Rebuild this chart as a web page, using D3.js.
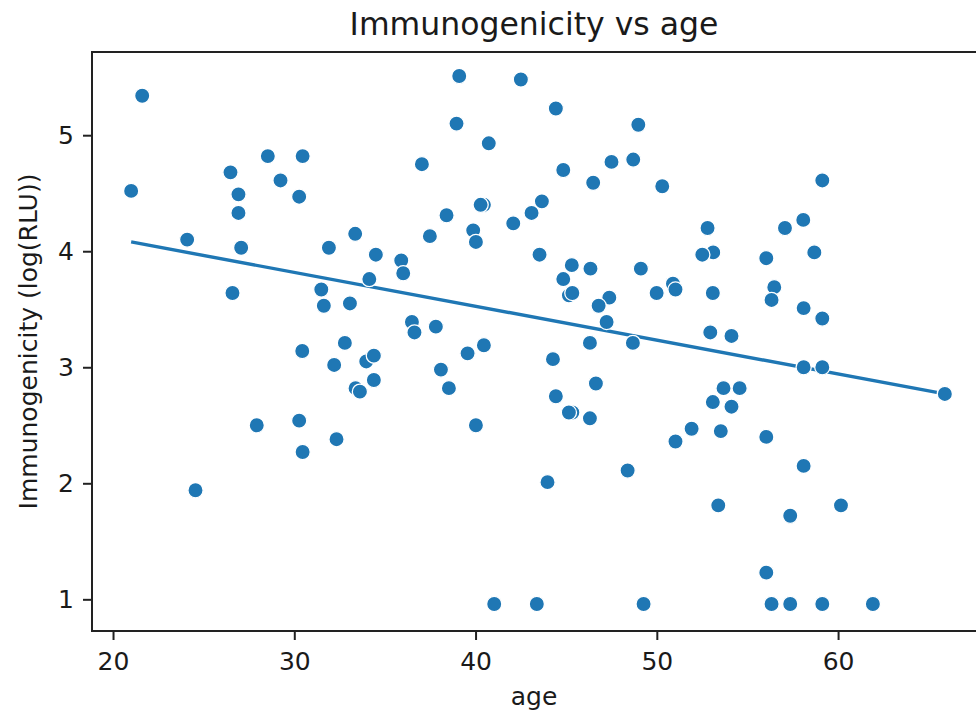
<!DOCTYPE html>
<html>
<head>
<meta charset="utf-8">
<script src="https://cdn.jsdelivr.net/npm/d3@7"></script>
<style>
  body { margin: 0; background: #fff; }
  svg { display: block; font-family: "DejaVu Sans", sans-serif; }
</style>
</head>
<body>
<script>
// ages and immunogenicity (log(RLU))
const ages = [
  21.61, 21.00, 24.09, 24.55, 26.48, 26.92, 26.92, 27.07, 26.59, 27.93,
  28.54, 29.24, 30.27, 30.46, 30.44, 30.27, 30.46, 31.91, 33.36, 34.50,
  34.14, 31.49, 31.63, 33.07, 32.79, 32.20, 33.97, 34.39, 34.39, 33.38,
  33.62, 32.33, 39.10, 42.50, 44.43, 38.95, 40.73, 48.98, 37.04, 44.84,
  47.50, 48.70, 46.49, 50.30, 40.46, 40.28, 43.66, 43.09, 38.40, 42.08,
  39.87, 40.02, 37.48, 35.90, 36.01, 43.53, 45.31, 46.34, 44.84, 49.12,
  49.99, 50.89, 51.03, 45.15, 45.34, 47.38, 46.79, 47.23, 36.49, 36.63,
  37.81, 59.13, 58.08, 57.07, 58.69, 52.80, 53.11, 52.51, 56.04, 56.48,
  56.33, 58.10, 59.13, 53.09, 52.95, 54.12, 38.09, 38.53, 39.56, 40.46,
  40.02, 44.27, 44.43, 45.34, 45.15, 46.31, 46.31, 46.64, 48.68, 43.97,
  48.39, 41.03, 43.38, 49.27, 58.10, 59.13, 65.89, 53.68, 54.57, 53.09,
  54.12, 51.92, 51.03, 53.53, 56.04, 58.10, 53.39, 57.36, 60.16, 56.04,
  56.33, 57.36, 59.13, 61.92
];
const immuno = [
  5.34, 4.52, 4.10, 1.94, 4.68, 4.49, 4.33, 4.03, 3.64, 2.50,
  4.82, 4.61, 4.47, 4.82, 3.14, 2.54, 2.27, 4.03, 4.15, 3.97,
  3.76, 3.67, 3.53, 3.55, 3.21, 3.02, 3.05, 3.10, 2.89, 2.82,
  2.79, 2.38, 5.51, 5.48, 5.23, 5.10, 4.93, 5.09, 4.75, 4.70,
  4.77, 4.79, 4.59, 4.56, 4.40, 4.40, 4.43, 4.33, 4.31, 4.24,
  4.18, 4.08, 4.13, 3.92, 3.81, 3.97, 3.88, 3.85, 3.76, 3.85,
  3.64, 3.72, 3.67, 3.62, 3.64, 3.60, 3.53, 3.39, 3.39, 3.30,
  3.35, 4.61, 4.27, 4.20, 3.99, 4.20, 3.99, 3.97, 3.94, 3.69,
  3.58, 3.51, 3.42, 3.64, 3.30, 3.27, 2.98, 2.82, 3.12, 3.19,
  2.50, 3.07, 2.75, 2.61, 2.61, 2.56, 3.21, 2.86, 3.21, 2.01,
  2.11, 0.96, 0.96, 0.96, 3.00, 3.00, 2.77, 2.82, 2.82, 2.70,
  2.66, 2.47, 2.36, 2.45, 2.40, 2.15, 1.81, 1.72, 1.81, 1.23,
  0.96, 0.96, 0.96, 0.96
];

// fitted trend line end points
const fitAge = [21.0, 65.89];
const fitImmuno = [4.08, 2.77];

const xTicks = [20, 30, 40, 50, 60];
const yTicks = [1, 2, 3, 4, 5];

const width = 976, height = 717;
const margin = { top: 52, right: -6, bottom: 86, left: 92 };

const svg = d3.select('body')
    .append('svg')
    .attr('width', width)
    .attr('height', height);

const x = d3.scaleLinear()
    .domain([18.84, 67.94])
    .range([margin.left, width - margin.right]);

const y = d3.scaleLinear()
    .domain([0.727, 5.717])
    .range([height - margin.bottom, margin.top]);

const blue = '#1f77b4';
const ink = '#1a1a1a';

// trend line
const line = d3.line()
    .x(d => x(d[0]))
    .y(d => y(d[1]));

svg.append('path')
   .datum(d3.zip(fitAge, fitImmuno))
   .attr('fill', 'none')
   .attr('stroke', blue)
   .attr('stroke-width', 3.4)
   .attr('d', line);

// scatter points
svg.selectAll('circle.pt')
   .data(d3.zip(ages, immuno))
   .enter()
   .append('circle')
   .attr('class', 'pt')
   .attr('cx', d => x(d[0]))
   .attr('cy', d => y(d[1]))
   .attr('r', 7.6)
   .attr('fill', blue)
   .attr('stroke', '#fff')
   .attr('stroke-width', 1.3);

// axes
const xAxis = svg.append('g')
   .attr('transform', `translate(0,${height - margin.bottom})`)
   .call(d3.axisBottom(x).tickValues(xTicks).tickFormat(d3.format('d')).tickSize(9).tickPadding(12));

const yAxis = svg.append('g')
   .attr('transform', `translate(${margin.left},0)`)
   .call(d3.axisLeft(y).tickValues(yTicks).tickFormat(d3.format('d')).tickSize(9).tickPadding(9));

[xAxis, yAxis].forEach(g => {
    g.select('.domain').remove();
    g.selectAll('line').attr('stroke', '#222').attr('stroke-width', 2);
    g.selectAll('text')
     .attr('fill', ink)
     .style('font-size', '25px')
     .style('font-family', '"DejaVu Sans", sans-serif');
});

// spines (left, top, bottom)
svg.append('path')
   .attr('d', `M${width + 10},${margin.top}H${margin.left}V${height - margin.bottom}H${width + 10}`)
   .attr('fill', 'none')
   .attr('stroke', '#222')
   .attr('stroke-width', 2);

// title
svg.append('text')
   .attr('x', 534)
   .attr('y', 35)
   .attr('text-anchor', 'middle')
   .style('font-size', '31.5px')
   .attr('fill', ink)
   .text('Immunogenicity vs age');

// x-label
svg.append('text')
   .attr('x', 534)
   .attr('y', 705)
   .attr('text-anchor', 'middle')
   .style('font-size', '25px')
   .attr('fill', ink)
   .text('age');

// y-label
svg.append('text')
   .attr('transform', `translate(37,${(margin.top + height - margin.bottom) / 2}) rotate(-90)`)
   .attr('text-anchor', 'middle')
   .style('font-size', '25px')
   .attr('fill', ink)
   .text('Immunogenicity (log(RLU))');
</script>
</body>
</html>
